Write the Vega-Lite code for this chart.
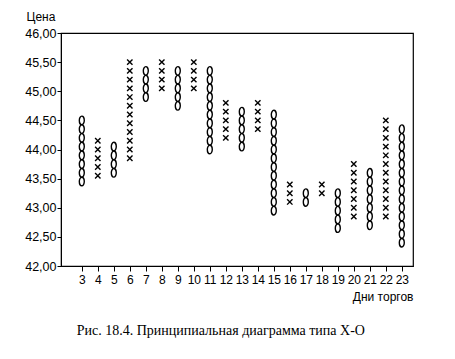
{
  "$schema": "https://vega.github.io/schema/vega-lite/v6.json",
  "width": 352,
  "height": 233,
  "autosize": {"type": "none"},
  "padding": {"left": 61, "top": 33, "right": 42, "bottom": 93},
  "background": "white",
  "title": {
    "text": "Рис. 18.4. Принципиальная диаграмма типа X-O",
    "orient": "bottom",
    "anchor": "start",
    "dx": 52,
    "offset": 22,
    "font": "Liberation Serif",
    "fontSize": 14,
    "fontWeight": "normal",
    "color": "black"
  },
  "config": {
    "view": {"stroke": "black", "strokeWidth": 1.2},
    "axis": {
      "domainColor": "black",
      "tickColor": "black",
      "labelColor": "black",
      "titleColor": "black",
      "labelFont": "Liberation Sans",
      "titleFont": "Liberation Sans",
      "grid": false
    }
  },
  "data": {
    "values": [
      {"d":3,"t":"O","p":44.5},{"d":3,"t":"O","p":44.35},{"d":3,"t":"O","p":44.2},{"d":3,"t":"O","p":44.05},{"d":3,"t":"O","p":43.9},{"d":3,"t":"O","p":43.75},{"d":3,"t":"O","p":43.6},{"d":3,"t":"O","p":43.45},
      {"d":4,"t":"X","p":44.15},{"d":4,"t":"X","p":44.0},{"d":4,"t":"X","p":43.85},{"d":4,"t":"X","p":43.7},{"d":4,"t":"X","p":43.55},
      {"d":5,"t":"O","p":44.05},{"d":5,"t":"O","p":43.9},{"d":5,"t":"O","p":43.75},{"d":5,"t":"O","p":43.6},
      {"d":6,"t":"X","p":45.5},{"d":6,"t":"X","p":45.35},{"d":6,"t":"X","p":45.2},{"d":6,"t":"X","p":45.05},{"d":6,"t":"X","p":44.9},{"d":6,"t":"X","p":44.75},{"d":6,"t":"X","p":44.6},{"d":6,"t":"X","p":44.45},{"d":6,"t":"X","p":44.3},{"d":6,"t":"X","p":44.15},{"d":6,"t":"X","p":44.0},{"d":6,"t":"X","p":43.85},
      {"d":7,"t":"O","p":45.35},{"d":7,"t":"O","p":45.2},{"d":7,"t":"O","p":45.05},{"d":7,"t":"O","p":44.9},
      {"d":8,"t":"X","p":45.5},{"d":8,"t":"X","p":45.35},{"d":8,"t":"X","p":45.2},{"d":8,"t":"X","p":45.05},
      {"d":9,"t":"O","p":45.35},{"d":9,"t":"O","p":45.2},{"d":9,"t":"O","p":45.05},{"d":9,"t":"O","p":44.9},{"d":9,"t":"O","p":44.75},
      {"d":10,"t":"X","p":45.5},{"d":10,"t":"X","p":45.35},{"d":10,"t":"X","p":45.2},{"d":10,"t":"X","p":45.05},
      {"d":11,"t":"O","p":45.35},{"d":11,"t":"O","p":45.2},{"d":11,"t":"O","p":45.05},{"d":11,"t":"O","p":44.9},{"d":11,"t":"O","p":44.75},{"d":11,"t":"O","p":44.6},{"d":11,"t":"O","p":44.45},{"d":11,"t":"O","p":44.3},{"d":11,"t":"O","p":44.15},{"d":11,"t":"O","p":44.0},
      {"d":12,"t":"X","p":44.8},{"d":12,"t":"X","p":44.65},{"d":12,"t":"X","p":44.5},{"d":12,"t":"X","p":44.35},{"d":12,"t":"X","p":44.2},
      {"d":13,"t":"O","p":44.65},{"d":13,"t":"O","p":44.5},{"d":13,"t":"O","p":44.35},{"d":13,"t":"O","p":44.2},{"d":13,"t":"O","p":44.05},
      {"d":14,"t":"X","p":44.8},{"d":14,"t":"X","p":44.65},{"d":14,"t":"X","p":44.5},{"d":14,"t":"X","p":44.35},
      {"d":15,"t":"O","p":44.6},{"d":15,"t":"O","p":44.45},{"d":15,"t":"O","p":44.3},{"d":15,"t":"O","p":44.15},{"d":15,"t":"O","p":44.0},{"d":15,"t":"O","p":43.85},{"d":15,"t":"O","p":43.7},{"d":15,"t":"O","p":43.55},{"d":15,"t":"O","p":43.4},{"d":15,"t":"O","p":43.25},{"d":15,"t":"O","p":43.1},{"d":15,"t":"O","p":42.95},
      {"d":16,"t":"X","p":43.4},{"d":16,"t":"X","p":43.25},{"d":16,"t":"X","p":43.1},
      {"d":17,"t":"O","p":43.25},{"d":17,"t":"O","p":43.1},
      {"d":18,"t":"X","p":43.4},{"d":18,"t":"X","p":43.25},
      {"d":19,"t":"O","p":43.25},{"d":19,"t":"O","p":43.1},{"d":19,"t":"O","p":42.95},{"d":19,"t":"O","p":42.8},{"d":19,"t":"O","p":42.65},
      {"d":20,"t":"X","p":43.75},{"d":20,"t":"X","p":43.6},{"d":20,"t":"X","p":43.45},{"d":20,"t":"X","p":43.3},{"d":20,"t":"X","p":43.15},{"d":20,"t":"X","p":43.0},{"d":20,"t":"X","p":42.85},
      {"d":21,"t":"O","p":43.6},{"d":21,"t":"O","p":43.45},{"d":21,"t":"O","p":43.3},{"d":21,"t":"O","p":43.15},{"d":21,"t":"O","p":43.0},{"d":21,"t":"O","p":42.85},{"d":21,"t":"O","p":42.7},
      {"d":22,"t":"X","p":44.5},{"d":22,"t":"X","p":44.35},{"d":22,"t":"X","p":44.2},{"d":22,"t":"X","p":44.05},{"d":22,"t":"X","p":43.9},{"d":22,"t":"X","p":43.75},{"d":22,"t":"X","p":43.6},{"d":22,"t":"X","p":43.45},{"d":22,"t":"X","p":43.3},{"d":22,"t":"X","p":43.15},{"d":22,"t":"X","p":43.0},{"d":22,"t":"X","p":42.85},
      {"d":23,"t":"O","p":44.35},{"d":23,"t":"O","p":44.2},{"d":23,"t":"O","p":44.05},{"d":23,"t":"O","p":43.9},{"d":23,"t":"O","p":43.75},{"d":23,"t":"O","p":43.6},{"d":23,"t":"O","p":43.45},{"d":23,"t":"O","p":43.3},{"d":23,"t":"O","p":43.15},{"d":23,"t":"O","p":43.0},{"d":23,"t":"O","p":42.85},{"d":23,"t":"O","p":42.7},{"d":23,"t":"O","p":42.55},{"d":23,"t":"O","p":42.4}
    ]
  },
  "mark": {"type": "point", "filled": false, "stroke": "black", "strokeWidth": 1.4, "opacity": 1, "size": 81},
  "encoding": {
    "x": {
      "field": "d",
      "type": "quantitative",
      "scale": {"domain": [1.7, 23.7], "nice": false, "zero": false},
      "axis": {
        "values": [3,4,5,6,7,8,9,10,11,12,13,14,15,16,17,18,19,20,21,22,23],
        "title": "Дни торгов",
        "titleFontSize": 12,
        "titleFontWeight": "normal",
        "titleAnchor": "end",
        "titleAlign": "right",
        "titleBaseline": "middle",
        "titleX": 352,
        "titleY": 30,
        "labelFontSize": 12,
        "labelPadding": 3,
        "tickSize": 5,
        "labelFlush": false,
        "labelOverlap": false
      }
    },
    "y": {
      "field": "p",
      "type": "quantitative",
      "scale": {"domain": [42, 46], "nice": false, "zero": false},
      "axis": {
        "values": [42, 42.5, 43, 43.5, 44, 44.5, 45, 45.5, 46],
        "labelExpr": "replace(format(datum.value, '.2f'), '.', ',')",
        "title": "Цена",
        "titleAngle": 0,
        "titleFontSize": 12,
        "titleFontWeight": "normal",
        "titleAlign": "left",
        "titleBaseline": "middle",
        "titleX": -35,
        "titleY": -17,
        "labelFontSize": 12.5,
        "labelPadding": 1,
        "tickSize": 4,
        "labelFlush": false,
        "labelOverlap": false
      }
    },
    "shape": {
      "field": "t",
      "type": "nominal",
      "scale": {
        "domain": ["X", "O"],
        "range": ["M-0.6,-0.6L0.6,0.6M-0.6,0.6L0.6,-0.6", "M0,-0.95A0.55,0.95 0 1,0 0,0.95A0.55,0.95 0 1,0 0,-0.95Z"]
      },
      "legend": null
    }
  }
}
